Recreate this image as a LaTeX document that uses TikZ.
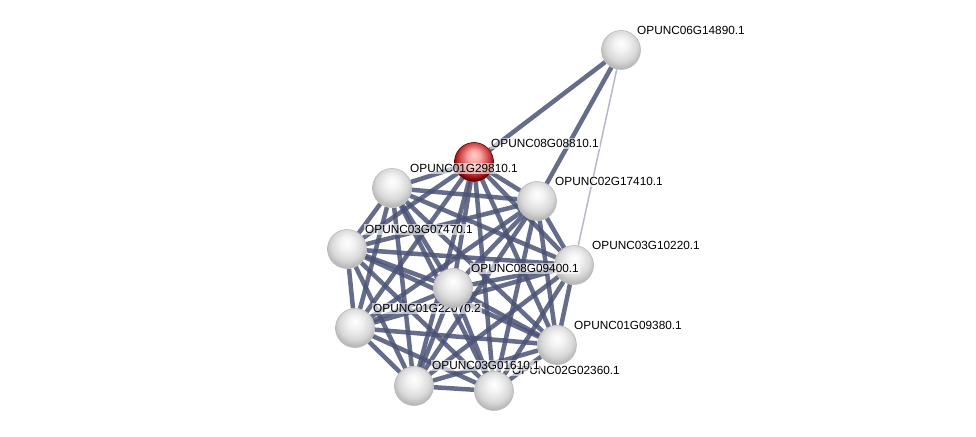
\documentclass[tikz,border=0pt]{standalone}
\usepackage{fontspec}
\setmainfont{Liberation Sans}
\usepackage{tikz}
\usetikzlibrary{backgrounds}
\definecolor{edgeblue}{HTML}{4A5375}
\definecolor{faintblue}{HTML}{B4B8CC}
\pgfdeclareradialshading{greyball}{\pgfpoint{0bp}{9bp}}{color(0bp)=(white); color(9bp)=(white!90!gray); color(20bp)=(gray!30); color(27bp)=(gray!55); color(50bp)=(gray!55)}
\pgfdeclareradialshading{redball}{\pgfpoint{0bp}{9bp}}{color(0bp)=(white!80!red); color(8bp)=(red!35!white); color(20bp)=(red!55!gray); color(27bp)=(red!45!black); color(50bp)=(red!45!black)}

\begin{document}
\begin{tikzpicture}[x=1pt, y=-1pt,
  prot/.style={circle, minimum size=39pt, inner sep=0pt, draw=gray!55, line width=.6pt, shading=greyball},
  seed/.style={prot, draw=red!35!black, shading=redball},
  lbl/.style={anchor=south west, inner sep=1pt, font=\fontsize{11.8}{13}\selectfont, fill=white, fill opacity=.6, text opacity=1},
  edge/.style={edgeblue, line width=4.5pt, opacity=.85},
  weak/.style={faintblue, line width=1.5pt}]
\useasboundingbox (0,0) rectangle (976,436);
\node[prot] (n11) at (621,50) {};
\node[lbl] at (636,36) {OPUNC06G14890.1};
\node[seed] (n1) at (474,162) {};
\node[lbl] at (490,149) {OPUNC08G08810.1};
\node[prot] (n2) at (392,188) {};
\node[lbl] at (409,174) {OPUNC01G29810.1};
\node[prot] (n3) at (537,201) {};
\node[lbl] at (554,187) {OPUNC02G17410.1};
\node[prot] (n4) at (347,249) {};
\node[lbl] at (364,235) {OPUNC03G07470.1};
\node[prot] (n5) at (574,265) {};
\node[lbl] at (591,251) {OPUNC03G10220.1};
\node[prot] (n7) at (355,328) {};
\node[lbl] at (372,314) {OPUNC01G22070.2};
\node[prot] (n6) at (453,288) {};
\node[lbl] at (470,274) {OPUNC08G09400.1};
\node[prot] (n8) at (557,345) {};
\node[lbl] at (573,331) {OPUNC01G09380.1};
\node[prot] (n10) at (494,391) {};
\node[lbl] at (511,376) {OPUNC02G02360.1};
\node[prot] (n9) at (414,386) {};
\node[lbl] at (431,371) {OPUNC03G01610.1};
% links
\begin{scope}[on background layer]
\foreach \a [evaluate=\a as \s using int(\a+1)] in {1,...,9}
  \foreach \b in {\s,...,10}
    \draw[edge] (n\a)--(n\b);
\draw[edge] (n11)--(n1); \draw[edge] (n11)--(n3);
\draw[weak] (n11)--(n5);
\end{scope}
\end{tikzpicture}
\end{document}
